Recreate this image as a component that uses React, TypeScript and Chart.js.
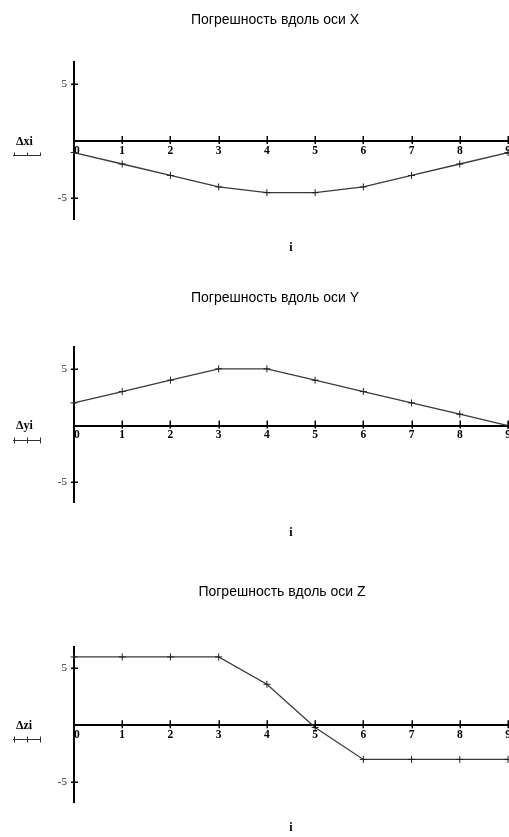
import React, { useEffect, useRef } from 'react';
import { Chart, registerables } from 'chart.js';

Chart.register(...registerables);

// ---- data ----
const indices = [0, 1, 2, 3, 4, 5, 6, 7, 8, 9];
const dxValues = [-1, -2, -3, -4, -4.5, -4.5, -4, -3, -2, -1];
const dyValues = [2, 3, 4, 5, 5, 4, 3, 2, 1, 0];
const dzValues = [6, 6, 6, 6, 3.6, -0.2, -3, -3, -3, -3];
const titles = ['Погрешность вдоль оси X', 'Погрешность вдоль оси Y', 'Погрешность вдоль оси Z'];
const yAxisLabels = ['Δxi', 'Δyi', 'Δzi'];
const xAxisLabel = 'i';
const xTickValues = [0, 1, 2, 3, 4, 5, 6, 7, 8, 9];
const yTickValues = [-5, 5];

// ---- layout (page pixels) ----
const CANVAS_W = 520;
const AREA_LEFT = 74;
const AREA_RIGHT = 508;

const panels = [
  { top: 0, height: 270, areaTop: 62, areaBottom: 219, titleX: 275, titleY: 20, iY: 248, values: dxValues, title: titles[0], ylabel: yAxisLabels[0] },
  { top: 278, height: 292, areaTop: 347.3, areaBottom: 502.7, titleX: 275, titleY: 297.7, iY: 533, values: dyValues, title: titles[1], ylabel: yAxisLabels[1] },
  { top: 570, height: 267, areaTop: 646.7, areaBottom: 802.7, titleX: 282, titleY: 592, iY: 828, values: dzValues, title: titles[2], ylabel: yAxisLabels[2] },
];

const annotatePlugin = {
  id: 'annotate',
  afterDraw(chart: any, _args: any, opts: any) {
    const ctx = chart.ctx as CanvasRenderingContext2D;
    const xs = chart.scales.x;
    const ys = chart.scales.y;
    const y0 = ys.getPixelForValue(0);
    const x0 = xs.getPixelForValue(0);
    const area = chart.chartArea;
    ctx.save();
    // crossing tick marks
    ctx.strokeStyle = '#000';
    ctx.lineWidth = 1.5;
    ctx.beginPath();
    for (const v of xTickValues) {
      const px = Math.round(xs.getPixelForValue(v)) + 0.25;
      ctx.moveTo(px, y0 - 5);
      ctx.lineTo(px, y0 + 3);
    }
    for (const v of yTickValues) {
      const py = Math.round(ys.getPixelForValue(v)) + 0.25;
      ctx.moveTo(x0 - 3, py);
      ctx.lineTo(x0 + 4, py);
    }
    ctx.stroke();

    // title
    ctx.fillStyle = '#000';
    ctx.textAlign = 'center';
    ctx.textBaseline = 'middle';
    ctx.font = '14px "Liberation Sans", Arial, sans-serif';
    ctx.fillText(opts.title, opts.titleX, opts.titleY - opts.top);

    // x axis label
    ctx.font = 'bold 12px "Liberation Serif", serif';
    ctx.fillText(xAxisLabel, (area.left + area.right) / 2, opts.iY - opts.top);

    // y axis label
    ctx.font = 'bold 12px "Liberation Serif", serif';
    ctx.textAlign = 'left';
    ctx.fillText(opts.ylabel, 16, y0 + 0.5);

    // legend trace sample
    const ly = Math.round(y0 + 14) + 0.5;
    ctx.strokeStyle = '#333';
    ctx.lineWidth = 1;
    ctx.beginPath();
    ctx.moveTo(13, ly);
    ctx.lineTo(41, ly);
    for (const lx of [14, 27, 40]) {
      ctx.moveTo(lx + 0.5, ly - 3);
      ctx.lineTo(lx + 0.5, ly + (opts.idx === 0 ? 0 : 3));
    }
    ctx.stroke();
    ctx.restore();
  },
};

function Panel({ idx }: { idx: number }) {
  const ref = useRef<HTMLCanvasElement | null>(null);
  const p = panels[idx];
  useEffect(() => {
    if (!ref.current) return;
    const chart = new Chart(ref.current, {
      type: 'line',
      data: {
        datasets: [
          {
            data: indices.map((i, k) => ({ x: i, y: p.values[k] })),
            borderColor: '#3a3a3a',
            borderWidth: 1.3,
            pointStyle: 'cross',
            pointRadius: 3.5,
            pointBorderColor: '#222',
            pointBorderWidth: 1,
            pointBackgroundColor: '#222',
            tension: 0,
            clip: 8,
          } as any,
        ],
      },
      options: {
        animation: false,
        responsive: false,
        events: [],
        layout: {
          padding: {
            left: 0,
            right: CANVAS_W - AREA_RIGHT,
            top: p.areaTop - p.top,
            bottom: p.top + p.height - p.areaBottom,
          },
        },
        plugins: {
          legend: { display: false },
          tooltip: { enabled: false },
          annotate: { title: p.title, titleX: p.titleX, titleY: p.titleY, iY: p.iY, top: p.top, ylabel: p.ylabel, idx },
        } as any,
        scales: {
          x: {
            type: 'linear',
            min: 0,
            max: 9,
            position: { y: 0 } as any,
            afterFit: (s: any) => { s.height = 0; },
            grid: { display: true, drawOnChartArea: false, drawTicks: false },
            border: { display: true, color: '#000', width: 2 },
            ticks: {
              stepSize: 1,
              autoSkip: false,
              maxRotation: 0,
              padding: 3,
              color: '#000',
              font: { family: '"Liberation Serif", serif', size: 11.5, weight: 'bold' },
              callback: (v: any) => (xTickValues.includes(v) ? (v === 0 ? '  0' : String(v)) : ''),
            },
          },
          y: {
            type: 'linear',
            min: -6.8,
            max: 6.9,
            position: 'left',
            afterFit: (s: any) => { s.width = AREA_LEFT; },
            grid: { display: true, drawOnChartArea: false, drawTicks: false },
            border: { display: true, color: '#000', width: 2 },
            ticks: {
              stepSize: 5,
              includeBounds: false,
              autoSkip: false,
              padding: 7,
              color: '#222',
              font: { family: '"Liberation Serif", serif', size: 11 },
              callback: (v: any) => (yTickValues.includes(v) ? String(v) : ''),
            },
          },
        },
      },
      plugins: [annotatePlugin],
    });
    return () => chart.destroy();
  }, [idx]);
  return (
    <canvas
      ref={ref}
      width={CANVAS_W}
      height={p.height}
      style={{ position: 'absolute', left: 0, top: p.top, width: CANVAS_W, height: p.height, display: 'block' }}
    />
  );
}

export default function App() {
  return (
    <div style={{ position: 'absolute', left: 0, top: 0, width: 509, height: 837, overflow: 'hidden', background: '#fff' }}>
      <Panel idx={0} />
      <Panel idx={1} />
      <Panel idx={2} />
    </div>
  );
}
